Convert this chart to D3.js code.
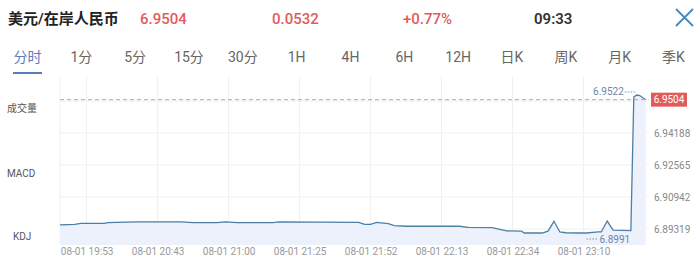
<!DOCTYPE html>
<html>
<head>
<meta charset="utf-8">
<script src="https://cdn.jsdelivr.net/npm/d3@7"></script>
<style>
  body { margin: 0; background: #fff; }
  svg { display: block; font-family: Roboto, "Noto Sans CJK SC", sans-serif; }
</style>
</head>
<body>
<svg id="chart" width="700" height="260"></svg>
<script>
// header quote
const title = '美元/在岸人民币'
const quote = ['6.9504', '0.0532', '+0.77%']
const clock = '09:33'
const tabs = ['分时', '1分', '5分', '15分', '30分', '1H', '4H', '6H', '12H', '日K', '周K', '月K', '季K']
const sideLabels = ['成交量', 'MACD', 'KDJ']

// price series (sample index along the axis, price)
const idx = [0, 5, 7, 15, 16, 26, 41, 45, 53, 56, 60, 72, 74, 101, 103, 105, 107, 111, 113, 117, 135, 138, 146, 151, 156, 157, 163, 165, 167, 169, 171, 175, 178, 182, 183, 185, 187, 193, 194, 195, 196, 198]
const price = [6.9022, 6.9024, 6.9028, 6.9028, 6.9031, 6.9034, 6.9034, 6.9031, 6.9031, 6.9034, 6.9031, 6.9031, 6.9034, 6.9032, 6.9024, 6.9024, 6.9032, 6.9027, 6.9019, 6.9017, 6.9017, 6.9013, 6.9012, 6.8999, 6.8998, 6.8991, 6.8991, 6.8998, 6.9036, 6.8995, 6.8992, 6.8991, 6.8991, 6.8995, 6.8995, 6.9037, 6.9002, 6.9000, 6.9514, 6.9522, 6.9520, 6.9504]
const lastPrice = 6.9504

// x axis ticks
const tickIdx = [9, 33, 57, 81, 105, 129, 153, 177]
const tickLabels = ['08-01 19:53', '08-01 20:43', '08-01 21:00', '08-01 21:25', '08-01 21:52', '08-01 22:13', '08-01 22:34', '08-01 23:10']

// y axis labels
const gridVals = [6.95811, 6.94188, 6.92565, 6.90942, 6.89319]
const yLabels = [6.94188, 6.92565, 6.90942, 6.89319]

const red = '#e25b5b'
const lineCol = '#4b7fa6'
const svg = d3.select('#chart')

// header
svg.append('text').text(title)
    .attr('x', 8).attr('y', 24)
    .attr('font-size', 15).attr('font-weight', 600).attr('fill', '#222')
const quoteX = [140, 272, 403]
svg.selectAll('text.quote')
    .data(quote)
    .join('text')
        .attr('class', 'quote')
        .text(d => d)
        .attr('x', (d, i) => quoteX[i]).attr('y', 24)
        .attr('font-size', 15).attr('font-weight', 500).attr('fill', red)
svg.append('text').text(clock)
    .attr('x', 534).attr('y', 24)
    .attr('font-size', 15).attr('font-weight', 600).attr('fill', '#333')
svg.append('path')
    .attr('d', 'M676,9 L693,26 M693,9 L676,26')
    .attr('stroke', '#4a86b8').attr('stroke-width', 1.8).attr('fill', 'none')

// tabs
const tabScale = d3.scalePoint().domain(tabs).range([27.5, 673.5])
svg.selectAll('text.tab')
    .data(tabs)
    .join('text')
        .attr('class', 'tab')
        .text(d => d)
        .attr('x', d => tabScale(d)).attr('y', 62)
        .attr('text-anchor', 'middle')
        .attr('font-size', 14)
        .attr('fill', (d, i) => i == 0 ? '#5b7db8' : '#666')
svg.append('rect')
    .attr('x', 13).attr('y', 72).attr('width', 29).attr('height', 2)
    .attr('fill', '#5b7db8')

// scales
const plotL = 60, plotR = 648.6, plotT = 76, plotB = 245
const x = d3.scaleLinear().domain([0, 199]).range([plotL, plotR])
const y = d3.scaleLinear().domain([6.8991, 6.9522]).range([233, 95])
const yAxisScale = d3.scaleLinear().domain([6.89319, 6.94188]).range([229, 133])

// grid
svg.selectAll('line.vgrid')
    .data(tickIdx)
    .join('line')
        .attr('x1', d => x(d)).attr('x2', d => x(d))
        .attr('y1', plotT).attr('y2', plotB)
        .attr('stroke', '#f0f0f2')
svg.selectAll('line.hgrid')
    .data(gridVals)
    .join('line')
        .attr('x1', plotL).attr('x2', plotR)
        .attr('y1', d => yAxisScale(d)).attr('y2', d => yAxisScale(d))
        .attr('stroke', '#f0f0f2')
svg.append('line')
    .attr('x1', plotL).attr('x2', plotL).attr('y1', plotT).attr('y2', plotB)
    .attr('stroke', '#f0f0f2')

// side labels
const sideY = [112, 177, 240]
const sideX = [7, 7, 13]
svg.selectAll('text.side')
    .data(sideLabels)
    .join('text')
        .text(d => d)
        .attr('x', (d, i) => sideX[i]).attr('y', (d, i) => sideY[i])
        .attr('font-size', 10).attr('fill', '#555')

// area + line
const pts = idx.map((d, i) => [d, price[i]])
const area = d3.area()
    .x(d => x(d[0]))
    .y0(plotB)
    .y1(d => y(d[1]))
svg.append('path').datum(pts)
    .attr('d', area).attr('fill', '#edf1fb')
const line = d3.line()
    .x(d => x(d[0]))
    .y(d => y(d[1]))
svg.append('path').datum(pts)
    .attr('d', line).attr('fill', 'none')
    .attr('stroke', lineCol).attr('stroke-width', 1.3)

// last price dashed line + tag
svg.append('line')
    .attr('x1', plotL).attr('x2', plotR)
    .attr('y1', y(lastPrice)).attr('y2', y(lastPrice))
    .attr('stroke', '#aaa').attr('stroke-dasharray', '4,3')
svg.append('rect')
    .attr('x', 651).attr('y', y(lastPrice) - 7).attr('width', 36).attr('height', 14)
    .attr('fill', red)
svg.append('text').text(d3.format('.4f')(lastPrice))
    .attr('x', 669).attr('y', y(lastPrice) + 3.5)
    .attr('text-anchor', 'middle')
    .attr('font-size', 10).attr('fill', '#fff')

// y axis labels
const yAxis = d3.axisRight(yAxisScale)
    .tickValues(yLabels)
    .tickSize(0)
    .tickFormat(d3.format('.5f'))
const ya = svg.append('g')
    .attr('transform', `translate(654, 0)`)
    .call(yAxis)
ya.select('.domain').remove()
ya.selectAll('text')
    .attr('x', 0)
    .attr('font-size', 10).attr('fill', '#888')
    .attr('font-family', 'Roboto, sans-serif')

// x axis labels
const xAxis = d3.axisBottom(x)
    .tickValues(tickIdx)
    .tickSize(0)
    .tickFormat((d, i) => tickLabels[i])
const xa = svg.append('g')
    .attr('transform', `translate(0, 245)`)
    .call(xAxis)
xa.select('.domain').remove()
xa.selectAll('text')
    .attr('dy', '0.71em').attr('y', 3)
    .attr('font-size', 10).attr('fill', '#999')
    .attr('font-family', 'Roboto, sans-serif')

// high / low markers
const hiI = price.indexOf(d3.max(price))
const loI = price.lastIndexOf(d3.min(price))
const hx = x(idx[hiI]), hy = y(price[hiI])
svg.append('line')
    .attr('x1', hx - 12).attr('x2', hx).attr('y1', hy - 3).attr('y2', hy - 3)
    .attr('stroke', '#7a93b3').attr('stroke-dasharray', '1.5,1.5')
svg.append('text').text(d3.format('.4f')(price[hiI]))
    .attr('x', hx - 13).attr('y', hy)
    .attr('text-anchor', 'end')
    .attr('font-size', 10).attr('fill', '#6a86a8')
const lx = x(idx[loI]), ly = y(price[loI])
svg.append('line')
    .attr('x1', lx).attr('x2', lx + 12).attr('y1', ly + 6).attr('y2', ly + 6)
    .attr('stroke', '#7a93b3').attr('stroke-dasharray', '1.5,1.5')
svg.append('text').text(d3.format('.4f')(price[loI]))
    .attr('x', lx + 13).attr('y', ly + 10)
    .attr('font-size', 10).attr('fill', '#6a86a8')
</script>
</body>
</html>
